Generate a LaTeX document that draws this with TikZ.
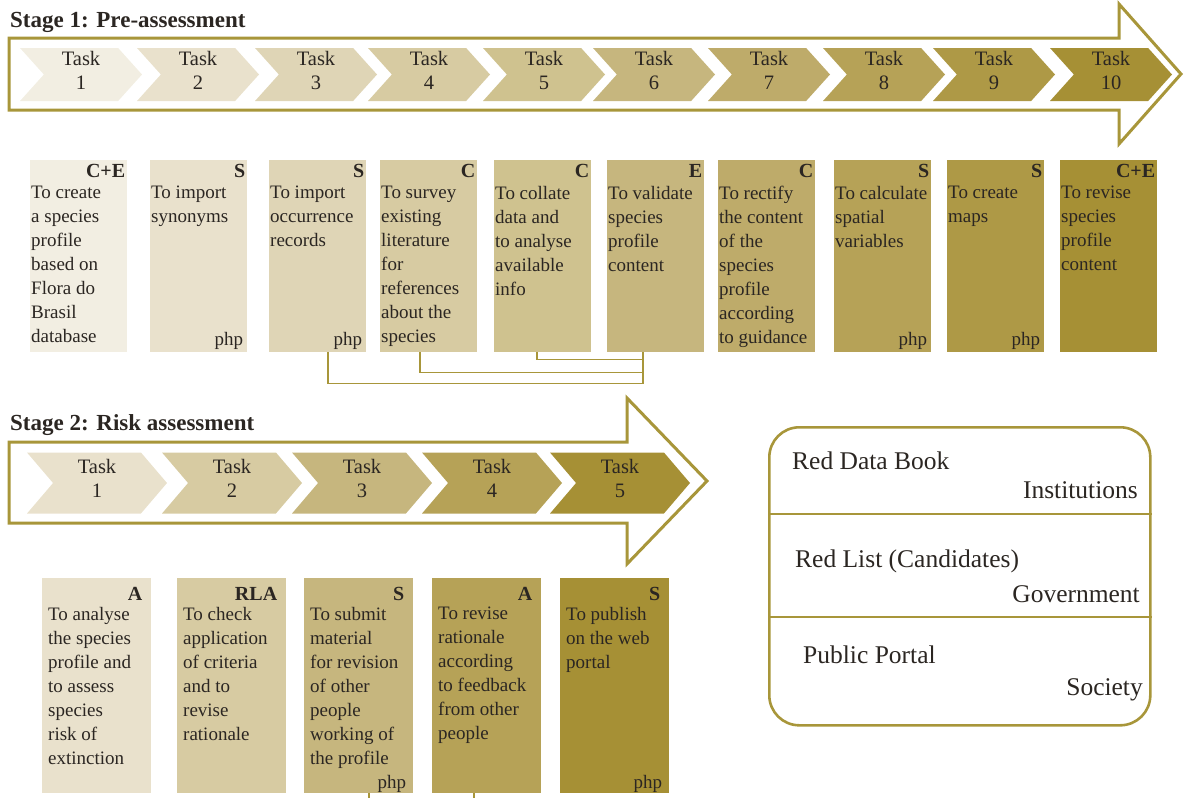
\documentclass[tikz,border=0pt]{standalone}
\usepackage{fontspec}
\setmainfont{Liberation Serif}
\usepackage{tikz}
\usetikzlibrary{shapes.symbols}
\definecolor{gold}{HTML}{A8963A}
\definecolor{ink}{HTML}{2B2622}
\definecolor{tone1}{HTML}{F2EEE2}
\definecolor{tone2}{HTML}{E9E1CC}
\definecolor{tone3}{HTML}{DFD5B6}
\definecolor{tone4}{HTML}{D7CBA2}
\definecolor{tone5}{HTML}{CFC28F}
\definecolor{tone6}{HTML}{C6B67E}
\definecolor{tone7}{HTML}{BEAB6A}
\definecolor{tone8}{HTML}{B6A257}
\definecolor{tone9}{HTML}{AE9946}
\definecolor{tone10}{HTML}{A69035}
\pgfdeclarelayer{nodelayer}
\pgfdeclarelayer{edgelayer}
\pgfsetlayers{edgelayer,nodelayer,main}
\tikzset{chev/.style={shape=signal, signal from=west, signal to=east, draw=none, inner sep=0pt,
align=center, text=ink, font=\fontsize{20.5}{24}\selectfont}}
\tikzset{chevA/.style={chev, minimum width=122pt, minimum height=53pt, signal pointer angle=96,
execute at end node=\rule[-9pt]{0pt}{9pt}}}
\tikzset{chevB/.style={chev, minimum width=140pt, minimum height=61pt, signal pointer angle=99,
execute at end node=\rule[-10pt]{0pt}{10pt}}}
\tikzset{card/.style={anchor=north west, inner sep=0pt, minimum width=97pt, minimum height=192pt}}
\tikzset{cardB/.style={card, minimum width=109pt, minimum height=215pt}}
\tikzset{code/.style={anchor=base east, inner sep=0pt, text=ink, font=\fontsize{20}{24}\selectfont\bfseries}}
\tikzset{desc/.style={anchor=north west, inner sep=0pt, align=left, text=ink, font=\fontsize{19}{24}\selectfont,
execute at begin node=\rule{0pt}{16pt}}}
\tikzset{php/.style={anchor=base east, inner sep=0pt, text=ink, font=\fontsize{19}{24}\selectfont}}
\tikzset{title/.style={anchor=base west, inner sep=0pt, text=ink, font=\fontsize{23}{26}\selectfont\bfseries}}
\tikzset{big/.style={inner sep=0pt, text=ink, font=\fontsize{25.5}{30}\selectfont}}
\tikzset{panel/.style={draw=gold, line width=2.6pt, rounded corners=30pt, anchor=north west,
inner sep=0pt, minimum width=381pt, minimum height=298pt}}
\tikzset{frame/.style={draw=gold, line width=3pt, line join=miter}}
\tikzset{link/.style={draw=gold, line width=1.3pt}}

\begin{document}
\begin{tikzpicture}[x=1pt,y=-1pt]
	\useasboundingbox (0,0) rectangle (1184,798);
	\begin{pgfonlayer}{nodelayer}
		% stage 1
		\node [style=title] (h1) at (10,27) {Stage 1: Pre-assessment};
		\node [style=chevA, fill=tone1] (s1) at (81,74.5) {Task\\1};
		\node [style=chevA, fill=tone2] (s2) at (198,74.5) {Task\\2};
		\node [style=chevA, fill=tone3] (s3) at (316,74.5) {Task\\3};
		\node [style=chevA, fill=tone4] (s4) at (429,74.5) {Task\\4};
		\node [style=chevA, fill=tone5] (s5) at (544,74.5) {Task\\5};
		\node [style=chevA, fill=tone6] (s6) at (654,74.5) {Task\\6};
		\node [style=chevA, fill=tone7] (s7) at (769,74.5) {Task\\7};
		\node [style=chevA, fill=tone8] (s8) at (884,74.5) {Task\\8};
		\node [style=chevA, fill=tone9] (s9) at (994,74.5) {Task\\9};
		\node [style=chevA, fill=tone10] (s10) at (1111,74.5) {Task\\10};

		\node [style=card, fill=tone1] (b1) at (30,160) {};
		\node [style=card, fill=tone2] (b2) at (150,160) {};
		\node [style=card, fill=tone3] (b3) at (269,160) {};
		\node [style=card, fill=tone4] (b4) at (380,160) {};
		\node [style=card, fill=tone5] (b5) at (494,160) {};
		\node [style=card, fill=tone6] (b6) at (607,160) {};
		\node [style=card, fill=tone7] (b7) at (718,160) {};
		\node [style=card, fill=tone8] (b8) at (834,160) {};
		\node [style=card, fill=tone9] (b9) at (947,160) {};
		\node [style=card, fill=tone10] (b10) at (1060,160) {};

		\node [style=code] (k1) at ([shift={(-2,17)}]b1.north east) {C+E};
		\node [style=code] (k2) at ([shift={(-2,17)}]b2.north east) {S};
		\node [style=code] (k3) at ([shift={(-2,17)}]b3.north east) {S};
		\node [style=code] (k4) at ([shift={(-2,17)}]b4.north east) {C};
		\node [style=code] (k5) at ([shift={(-2,17)}]b5.north east) {C};
		\node [style=code] (k6) at ([shift={(-2,17)}]b6.north east) {E};
		\node [style=code] (k7) at ([shift={(-2,17)}]b7.north east) {C};
		\node [style=code] (k8) at ([shift={(-2,17)}]b8.north east) {S};
		\node [style=code] (k9) at ([shift={(-2,17)}]b9.north east) {S};
		\node [style=code] (k10) at ([shift={(-2,17)}]b10.north east) {C+E};

		\node [style=desc] (d1) at ([shift={(1,26)}]b1.north west) {To create\\a species\\profile\\based on\\Flora do\\Brasil\\database};
		\node [style=desc] (d2) at ([shift={(1,26)}]b2.north west) {To import\\synonyms};
		\node [style=desc] (d3) at ([shift={(1,26)}]b3.north west) {To import\\occurrence\\records};
		\node [style=desc] (d4) at ([shift={(1,26)}]b4.north west) {To survey\\existing\\literature\\for\\references\\about the\\species};
		\node [style=desc] (d5) at ([shift={(1,26)}]b5.north west) {To collate\\data and\\to analyse\\available\\info};
		\node [style=desc] (d6) at ([shift={(1,26)}]b6.north west) {To validate\\species\\profile\\content};
		\node [style=desc] (d7) at ([shift={(1,26)}]b7.north west) {To rectify\\the content\\of the\\species\\profile\\according\\to guidance};
		\node [style=desc] (d8) at ([shift={(1,26)}]b8.north west) {To calculate\\spatial\\variables};
		\node [style=desc] (d9) at ([shift={(1,26)}]b9.north west) {To create\\maps};
		\node [style=desc] (d10) at ([shift={(1,26)}]b10.north west) {To revise\\species\\profile\\content};

		\node [style=php] (p2) at ([shift={(-4,-7)}]b2.south east) {php};
		\node [style=php] (p3) at ([shift={(-4,-7)}]b3.south east) {php};
		\node [style=php] (p8) at ([shift={(-4,-7)}]b8.south east) {php};
		\node [style=php] (p9) at ([shift={(-4,-7)}]b9.south east) {php};

		% stage 2
		\node [style=title] (h2) at (10,430) {Stage 2: Risk assessment};
		\node [style=chevB, fill=tone2] (q1) at (97,483) {Task\\1};
		\node [style=chevB, fill=tone4] (q2) at (232,483) {Task\\2};
		\node [style=chevB, fill=tone6] (q3) at (362,483) {Task\\3};
		\node [style=chevB, fill=tone8] (q4) at (492,483) {Task\\4};
		\node [style=chevB, fill=tone10] (q5) at (620,483) {Task\\5};

		\node [style=cardB, fill=tone2] (r1) at (42,578) {};
		\node [style=cardB, fill=tone4] (r2) at (177,578) {};
		\node [style=cardB, fill=tone6] (r3) at (304,578) {};
		\node [style=cardB, fill=tone8] (r4) at (432,578) {};
		\node [style=cardB, fill=tone10] (r5) at (560,578) {};

		\node [style=code] (m1) at ([shift={(-9,22)}]r1.north east) {A};
		\node [style=code] (m2) at ([shift={(-9,22)}]r2.north east) {RLA};
		\node [style=code] (m3) at ([shift={(-9,22)}]r3.north east) {S};
		\node [style=code] (m4) at ([shift={(-9,22)}]r4.north east) {A};
		\node [style=code] (m5) at ([shift={(-9,22)}]r5.north east) {S};

		\node [style=desc] (e1) at ([shift={(6,29)}]r1.north west) {To analyse\\the species\\profile and\\to assess\\species\\risk of\\extinction};
		\node [style=desc] (e2) at ([shift={(6,29)}]r2.north west) {To check\\application\\of criteria\\and to\\revise\\rationale};
		\node [style=desc] (e3) at ([shift={(6,29)}]r3.north west) {To submit\\material\\for revision\\of other\\people\\working of\\the profile};
		\node [style=desc] (e4) at ([shift={(6,29)}]r4.north west) {To revise\\rationale\\according\\to feedback\\from other\\people};
		\node [style=desc] (e5) at ([shift={(6,29)}]r5.north west) {To publish\\on the web\\portal};

		\node [style=php] (n3) at ([shift={(-7,-5)}]r3.south east) {php};
		\node [style=php] (n5) at ([shift={(-7,-5)}]r5.south east) {php};

		% outputs
		\node [style=panel] (out) at (768,426) {};
		\node [style=big, anchor=base west] (o1) at (792,469) {Red Data Book};
		\node [style=big, anchor=base east] (o2) at (1138,498) {Institutions};
		\node [style=big, anchor=base west] (o3) at (795,567) {Red List (Candidates)};
		\node [style=big, anchor=base east] (o4) at (1140,602) {Government};
		\node [style=big, anchor=base west] (o5) at (803,663) {Public Portal};
		\node [style=big, anchor=base east] (o6) at (1143,695) {Society};
	\end{pgfonlayer}
	\begin{pgfonlayer}{edgelayer}
		\draw [style=frame] (9,38) -- (1119,38) -- (1119,4) -- (1181,74) -- (1119,144) -- (1119,110) -- (9,110) -- cycle;
		\draw [style=frame] (9,442) -- (627,442) -- (627,398) -- (707,481) -- (627,564) -- (627,523) -- (9,523) -- cycle;
		\draw [style=frame, line width=2.6pt] (out.west |- 0,514) to (out.east |- 0,514);
		\draw [style=frame, line width=2.6pt] (out.west |- 0,617) to (out.east |- 0,617);

		\coordinate (j3) at ([xshift=59pt]b3.south west);
		\coordinate (j4) at ([xshift=40pt]b4.south west);
		\coordinate (j5) at ([xshift=43pt]b5.south west);
		\coordinate (j6) at ([xshift=36pt]b6.south west);
		\draw [style=link] (j3) -- ++(0,31) -| (j6);
		\draw [style=link] (j4) -- ++(0,20) -| (j6);
		\draw [style=link] (j5) -- ++(0,7) -| (j6);

		\coordinate (t3) at ([xshift=65pt]r3.south west);
		\coordinate (t4) at ([xshift=42pt]r4.south west);
		\draw [style=link] (t3) -- ++(0,6);
		\draw [style=link] (t4) -- ++(0,6);
	\end{pgfonlayer}
\end{tikzpicture}
\end{document}
